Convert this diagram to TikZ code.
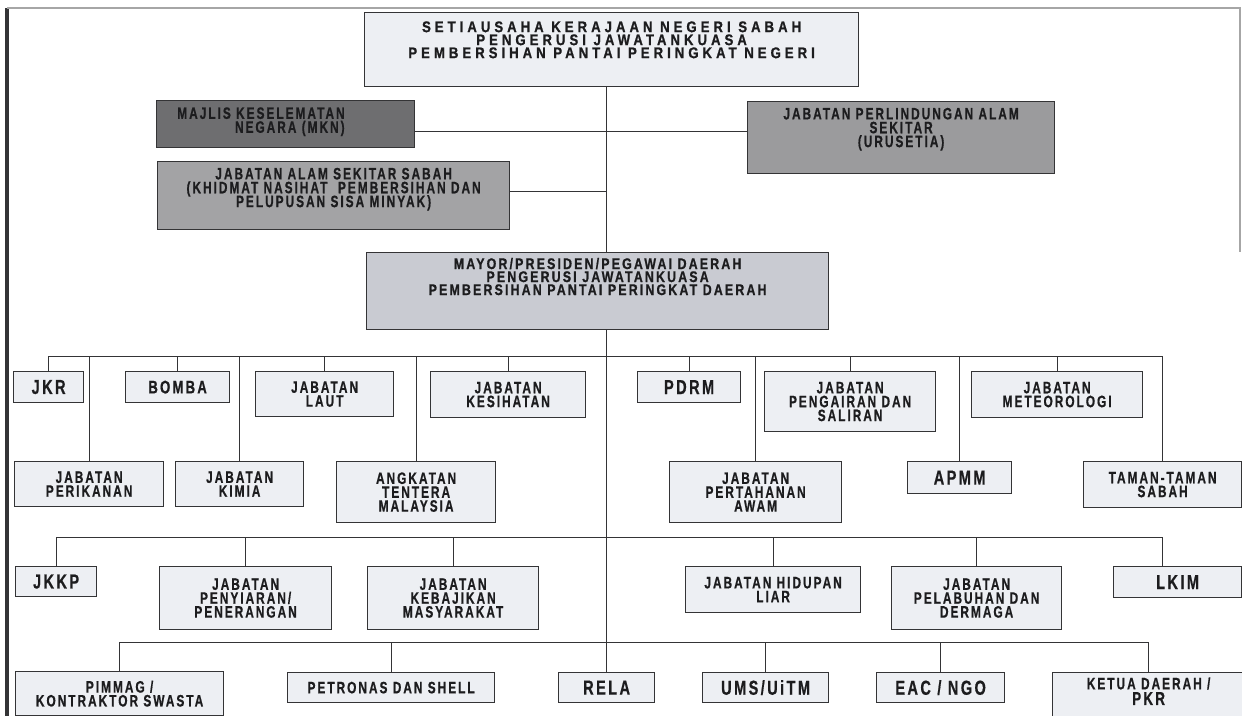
\documentclass[tikz,border=0pt]{standalone}
\usepackage{fontspec}
\setmainfont{Liberation Sans}
\newfontfamily\boxfont{Liberation Sans Bold}[FakeStretch=0.72,LetterSpace=12,FakeBold=0.6]
\newfontfamily\mayfont{Liberation Sans Bold}[FakeStretch=0.8,LetterSpace=14,FakeBold=0.9]
\newfontfamily\topfont{Liberation Sans Bold}[FakeStretch=0.85,LetterSpace=26,FakeBold=0.9]
\newcommand{\tightlines}{\lineskiplimit=-20pt\relax}
\usetikzlibrary{positioning}
\definecolor{ink}{RGB}{28,28,30}
\definecolor{edge}{RGB}{52,52,54}
\definecolor{pale}{RGB}{237,239,243}
\definecolor{mknfill}{RGB}{110,110,112}
\definecolor{jpafill}{RGB}{155,155,157}
\definecolor{jasfill}{RGB}{163,163,165}
\definecolor{mayfill}{RGB}{201,203,210}

\begin{document}
\begin{tikzpicture}[x=0.02cm,y=-0.02cm,
 unit/.style={draw=edge,line width=0.7pt,fill=pale,inner sep=0pt,align=center,text=ink,
   font=\boxfont\fontsize{9.4}{7.9}\selectfont\tightlines},
 unitbig/.style={unit,font=\boxfont\fontsize{11.5}{12}\selectfont},
 unitmid/.style={unit,font=\boxfont\fontsize{10.4}{9}\selectfont},
 dim/.style 2 args={minimum width=#1*0.02cm,minimum height=#2*0.02cm,anchor=north west},
 lbl/.style={inner sep=0pt,align=center,text=ink,
   font=\boxfont\fontsize{9.4}{7.9}\selectfont\tightlines},
 wire/.style={draw=edge,line width=0.55pt}]
 \useasboundingbox (0,0) rectangle (1242,716);
 % frame of the scanned page
 \draw[edge,line width=2.2pt] (7,8) -- (7,716);
 \draw[gray!70,line width=0.7pt] (7,8) -- (1240,8) -- (1240,252);

 % state level
 \node[unit,dim={494}{74}] (setia) at (364,12) {};
 \node[lbl,font=\topfont\fontsize{8.8}{7.4}\selectfont\tightlines,below=0.18cm of setia.north] (setia-t)
   {SETIAUSAHA KERAJAAN NEGERI SABAH\\PENGERUSI JAWATANKUASA\\PEMBERSIHAN PANTAI PERINGKAT NEGERI};
 \node[unit,fill=mknfill,dim={258}{47}] (mkn) at (156,100) {};
 \node[lbl,align=right,anchor=north east] (mkn-t) at (345,107) {MAJLIS KESELEMATAN\\NEGARA (MKN)};
 \node[unit,fill=jpafill,dim={307}{72}] (jpas) at (747,101) {};
 \node[lbl,below=0.13cm of jpas.north] (jpas-t) {JABATAN PERLINDUNGAN ALAM\\SEKITAR\\(URUSETIA)};
 \node[unit,fill=jasfill,dim={352}{68}] (jas) at (157,161) {};
 \node[lbl,below=0.13cm of jas.north] (jas-t)
   {JABATAN ALAM SEKITAR SABAH\\(KHIDMAT NASIHAT~ PEMBERSIHAN DAN\\PELUPUSAN SISA MINYAK)};

 % district level
 \node[unit,fill=mayfill,dim={462}{77}] (mayor) at (366,252) {};
 \node[lbl,font=\mayfont\fontsize{8.8}{7.4}\selectfont\tightlines,below=0.11cm of mayor.north] (mayor-t)
   {MAYOR/PRESIDEN/PEGAWAI DAERAH\\PENGERUSI JAWATANKUASA\\PEMBERSIHAN PANTAI PERINGKAT DAERAH};

 % agencies, first group
 \node[unitbig,dim={70}{31}] (jkr) at (13,371) {JKR};
 \node[unitmid,dim={104}{31}] (bomba) at (125,371) {BOMBA};
 \node[unit,dim={138}{45}] (laut) at (255,371) {JABATAN\\LAUT};
 \node[unit,dim={155}{46}] (sihat) at (430,371) {JABATAN\\KESIHATAN};
 \node[unitbig,dim={103}{31}] (pdrm) at (637,371) {PDRM};
 \node[unit,dim={171}{60}] (air) at (764,371) {JABATAN\\PENGAIRAN DAN\\SALIRAN};
 \node[unit,dim={171}{46}] (meteo) at (971,371) {JABATAN\\METEOROLOGI};
 \node[unit,dim={149}{45}] (ikan) at (14,461) {JABATAN\\PERIKANAN};
 \node[unit,dim={128}{45}] (kimia) at (175,461) {JABATAN\\KIMIA};
 \node[unit,dim={159}{61}] (atm) at (336,461) {ANGKATAN\\TENTERA\\MALAYSIA};
 \node[unit,dim={172}{61}] (jpam) at (669,461) {JABATAN\\PERTAHANAN\\AWAM};
 \node[unitbig,dim={104}{32}] (apmm) at (907,461) {APMM};
 \node[unit,dim={158}{46}] (taman) at (1083,461) {TAMAN-TAMAN\\SABAH};

 % second group
 \node[unitbig,dim={81}{30}] (jkkp) at (15,566) {JKKP};
 \node[unit,dim={172}{63}] (siar) at (159,566) {JABATAN\\PENYIARAN/\\PENERANGAN};
 \node[unit,dim={171}{63}] (jkm) at (367,566) {JABATAN\\KEBAJIKAN\\MASYARAKAT};
 \node[unit,dim={175}{46}] (liar) at (685,566) {JABATAN HIDUPAN\\LIAR};
 \node[unit,dim={170}{63}] (labuh) at (891,566) {JABATAN\\PELABUHAN DAN\\DERMAGA};
 \node[unitbig,dim={128}{31}] (lkim) at (1113,566) {LKIM};

 % third group
 \node[unit,dim={208}{44}] (pim) at (15,671) {PIMMAG /\\KONTRAKTOR SWASTA};
 \node[unit,dim={207}{30}] (petro) at (287,672) {PETRONAS DAN SHELL};
 \node[unitbig,dim={96}{30}] (rela) at (558,672) {RELA};
 \node[unitbig,dim={126}{30}] (ums) at (702,672) {UMS/UiTM};
 \node[unitbig,dim={128}{30}] (eac) at (876,672) {EAC / NGO};
 \node[unit,dim={192}{46}] (ketua) at (1052,672) {};
 \node[lbl,below=0.1cm of ketua.north] (ketua-t) {KETUA DAERAH /\\[1pt]{\fontsize{10.6}{9}\selectfont PKR}};

 % junctions
 \coordinate (tmkn) at (606,131);
 \coordinate (tjas) at (606,191);
 \coordinate (bus1) at (606,356);
 \coordinate (bus3) at (606,537);
 \coordinate (bus4) at (606,642);
 \coordinate (lkdrop) at ([xshift=-0.3cm]lkim.north);

 % connectors
 \draw[wire] (setia.south -| rela.north) -- (mayor.north -| rela.north);
 \draw[wire] (mayor.south -| rela.north) -- (rela.north);
 \draw[wire] (mkn.east |- tmkn) -- (jpas.west |- tmkn);
 \draw[wire] (jas.east |- tjas) -- (tjas);
 \draw[wire] (jkr.north |- bus1) -- (taman.north |- bus1);
 \draw[wire] (jkr.north) -- (jkr.north |- bus1);
 \draw[wire] (bomba.north) -- (bomba.north |- bus1);
 \draw[wire] (laut.north) -- (laut.north |- bus1);
 \draw[wire] (sihat.north) -- (sihat.north |- bus1);
 \draw[wire] (pdrm.north) -- (pdrm.north |- bus1);
 \draw[wire] (air.north) -- (air.north |- bus1);
 \draw[wire] (meteo.north) -- (meteo.north |- bus1);
 \draw[wire] (ikan.north) -- (ikan.north |- bus1);
 \draw[wire] (kimia.north) -- (kimia.north |- bus1);
 \draw[wire] (atm.north) -- (atm.north |- bus1);
 \draw[wire] (jpam.north) -- (jpam.north |- bus1);
 \draw[wire] (apmm.north) -- (apmm.north |- bus1);
 \draw[wire] (taman.north) -- (taman.north |- bus1);
 \draw[wire] (jkkp.north |- bus3) -- (lkdrop |- bus3);
 \draw[wire] (jkkp.north) -- (jkkp.north |- bus3);
 \draw[wire] (siar.north) -- (siar.north |- bus3);
 \draw[wire] (jkm.north) -- (jkm.north |- bus3);
 \draw[wire] (liar.north) -- (liar.north |- bus3);
 \draw[wire] (labuh.north) -- (labuh.north |- bus3);
 \draw[wire] (lkdrop) -- (lkdrop |- bus3);
 \draw[wire] (pim.north |- bus4) -- (ketua.north |- bus4);
 \draw[wire] (pim.north) -- (pim.north |- bus4);
 \draw[wire] (petro.north) -- (petro.north |- bus4);
 \draw[wire] (ums.north) -- (ums.north |- bus4);
 \draw[wire] (eac.north) -- (eac.north |- bus4);
 \draw[wire] (ketua.north) -- (ketua.north |- bus4);
\end{tikzpicture}
\end{document}
